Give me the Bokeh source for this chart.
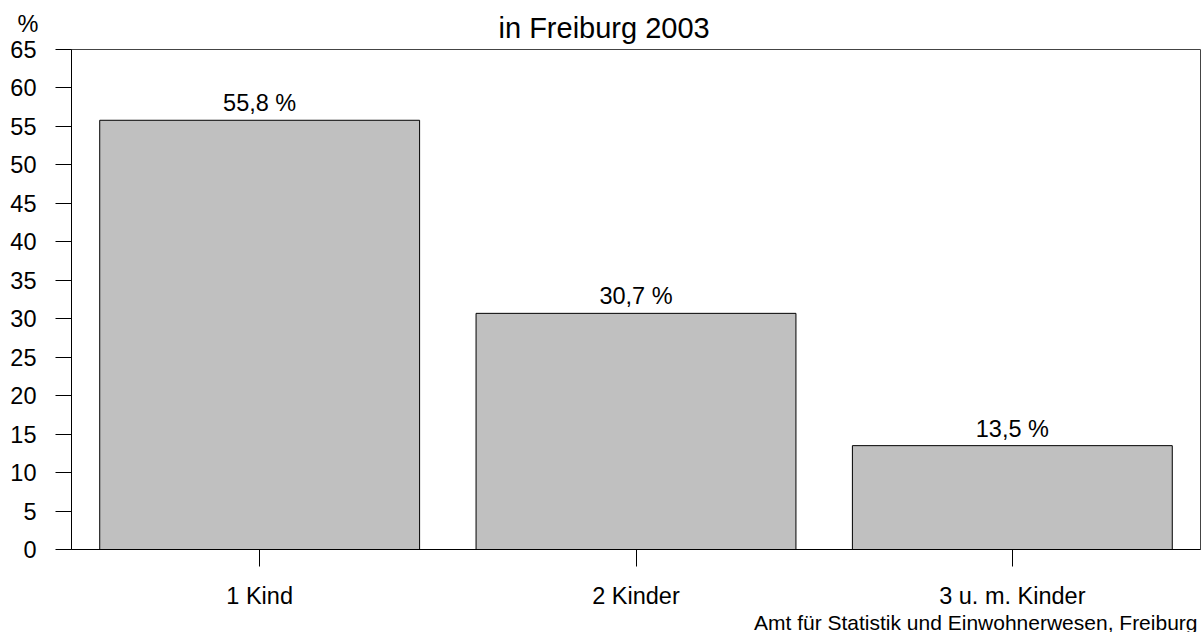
from bokeh.plotting import figure
from bokeh.models import ColumnDataSource, FactorRange, Range1d, FixedTicker, Title, LabelSet
from bokeh.core.properties import value
from bokeh.embed import file_html
from bokeh.resources import INLINE

categories = ["1 Kind", "2 Kinder", "3 u. m. Kinder"]
shares = [55.8, 30.7, 13.5]
share_labels = ["55,8 %", "30,7 %", "13,5 %"]
y_ticks = list(range(0, 70, 5))
title_text = "in Freiburg 2003"
unit_text = "%"
source_text = "Amt für Statistik und Einwohnerwesen, Freiburg"

FONT = "Liberation Sans"
FS = "23.5px"

src = ColumnDataSource(dict(cat=categories, val=shares, lab=share_labels))

p = figure(width=1204, height=632, x_range=FactorRange(*categories),
           y_range=Range1d(0, 65), output_backend="svg", toolbar_location=None,
           title=None,
           min_border_left=71, min_border_right=4, min_border_top=49,
           min_border_bottom=83)
p.background_fill_color = "white"
p.border_fill_color = "white"
p.outline_line_color = "#444444"
p.xgrid.grid_line_color = None
p.ygrid.grid_line_color = None

p.vbar(x="cat", top="val", width=0.85, source=src,
       fill_color="#c0c0c0", line_color="black", line_width=1)

p.add_layout(LabelSet(x="cat", y="val", text="lab", source=src, y_offset=9,
                      text_align="center", text_baseline="alphabetic",
                      text_font=value(FONT), text_font_size=value(FS),
                      text_color=value("black")))

p.yaxis.ticker = FixedTicker(ticks=y_ticks)
p.yaxis.minor_tick_line_color = None
p.yaxis.major_tick_out = 16
p.yaxis.major_tick_in = 0
p.yaxis.major_label_standoff = 19
p.yaxis.axis_line_color = "black"
p.yaxis.major_tick_line_color = "black"
p.yaxis.major_label_text_font = FONT
p.yaxis.major_label_text_font_size = FS
p.yaxis.major_label_text_color = "black"

p.xaxis.major_tick_out = 17
p.xaxis.major_tick_in = 0
p.xaxis.major_label_standoff = 16
p.xaxis.axis_line_color = "black"
p.xaxis.major_tick_line_color = "black"
p.xaxis.major_label_text_font = FONT
p.xaxis.major_label_text_font_size = FS
p.xaxis.major_label_text_color = "black"

p.add_layout(Title(text=title_text, align="left", offset=427, standoff=12,
                   text_font=FONT, text_font_size="29px", text_font_style="normal",
                   text_color="black"), "above")
p.add_layout(Title(text=unit_text, align="left", offset=-54, standoff=-67,
                   text_font=FONT, text_font_size=FS, text_font_style="normal",
                   text_color="black"), "above")
p.add_layout(Title(text=source_text, align="right", offset=3, standoff=-6,
                   text_font=FONT, text_font_size="21px", text_font_style="normal",
                   text_color="black"), "below")

open("out.html", "w").write(file_html(p, INLINE))
